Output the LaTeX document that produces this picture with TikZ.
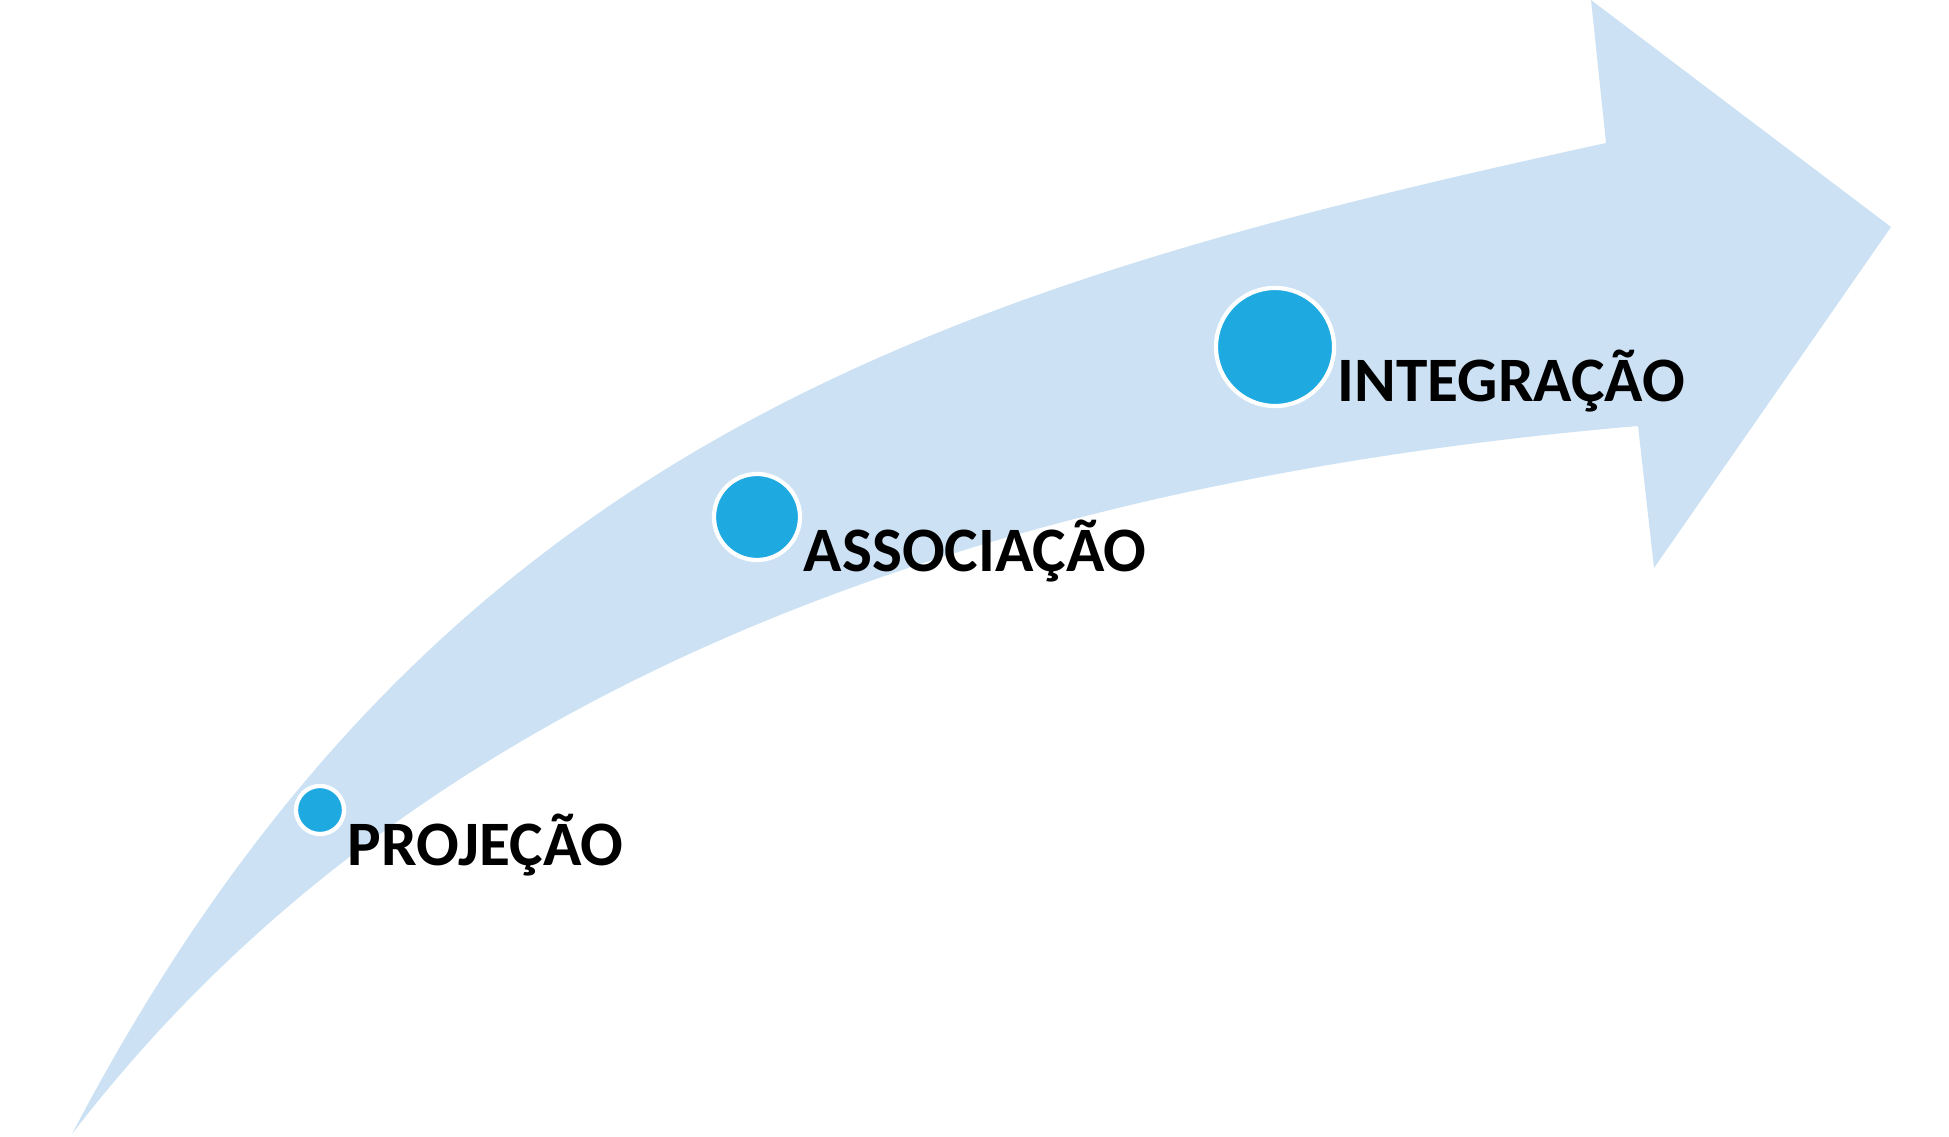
\documentclass[tikz,border=0pt]{standalone}
\usepackage{fontspec}
\setmainfont{Carlito}
\usetikzlibrary{calc}
\definecolor{arrowblue}{HTML}{CCE2F4}
\definecolor{dotblue}{HTML}{1EAAE0}
\tikzset{
	dot/.style={circle, fill=dotblue, draw=white, line width=1.2pt, inner sep=0pt},
	stage/.style={anchor=base west, inner sep=0pt, font=\bfseries\fontsize{18}{20}\selectfont}
}
\begin{document}
\begin{tikzpicture}[x=0.01cm,y=-0.01cm]
	\useasboundingbox (0,0) rectangle (1949,1137);
	\coordinate (tail) at (72,1134);
	\coordinate (up) at (1606,143);
	\coordinate (lo) at (1638,426);
	\coordinate (tip) at (1891,227);
	% curved arrow
	\fill[arrowblue] (tail) .. controls (430,450) and (930,290) .. (up) -- (1591,0) -- (tip)
		-- (1654,568) -- (lo) .. controls (950,485) and (405,700) .. (tail) -- cycle;
	% stages
	\foreach \name/\x/\y/\d/\txt in {proj/320/810/0.48/PROJEÇÃO, asso/757/517/0.86/ASSOCIAÇÃO, inte/1275/347/1.18/INTEGRAÇÃO}{
		\node[dot, minimum size=\d cm] (c\name) at (\x,\y) {};
		\node[stage] (t\name) at ($(c\name.east)+(1,55)$) {\txt};
	}
\end{tikzpicture}
\end{document}
